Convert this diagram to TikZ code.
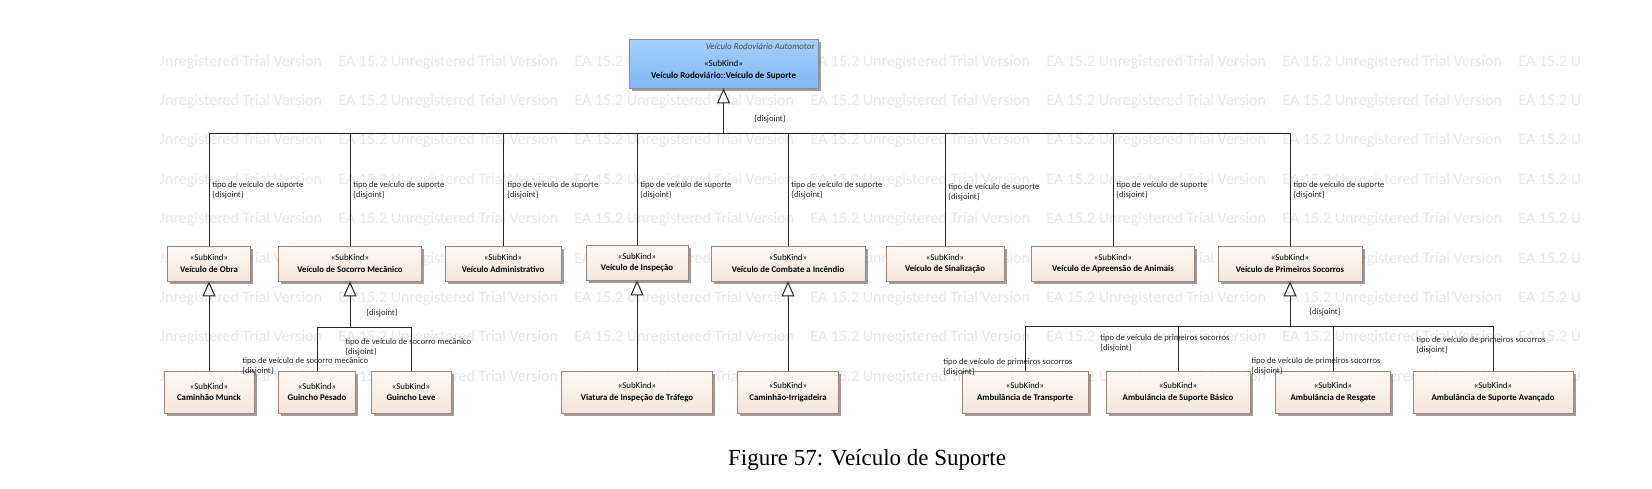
\documentclass[tikz,border=0pt]{standalone}
\usepackage{fontspec}
\setmainfont{Liberation Serif}
\newfontfamily\eafont{Carlito}
\usetikzlibrary{arrows.meta,shadows}

\definecolor{kindtop}{RGB}{253,249,245}
\definecolor{kindfill}{RGB}{244,229,219}
\definecolor{kindline}{RGB}{160,135,125}
\definecolor{suptop}{RGB}{165,208,250}
\definecolor{supfill}{RGB}{128,184,245}
\definecolor{trialgray}{RGB}{233,233,233}

\tikzset{
  kind/.style={draw=kindline, line width=0.45pt, top color=kindtop, bottom color=kindfill,
    minimum width=#1*0.5pt, minimum height=17.5pt, inner sep=0pt, align=center,
    font=\eafont\fontsize{4.4}{5.75}\selectfont,
    drop shadow={shadow xshift=1.4pt, shadow yshift=-1.4pt, fill=black!70, opacity=0.55}},
  kindtall/.style={kind=#1, minimum height=21pt},
  lbl/.style={font=\eafont\fontsize{4.3}{5}\selectfont, align=left, anchor=west, inner sep=0pt, text=black!85},
  conn/.style={line width=0.5pt, draw=black!85},
  gen/.style={conn, -{Triangle[open, length=7.5pt, width=6.5pt]}},
  trial/.style={font=\eafont\fontsize{8}{9}\selectfont, text=trialgray, anchor=west, inner sep=0pt}
}

\begin{document}
\begin{tikzpicture}[x=0.5pt,y=-0.5pt]
    \useasboundingbox (0,0) rectangle (1652,488);

    % --------------------------------------------------------- %
    % ------------- watermark of the tool
    % --------------------------------------------------------- %
    \begin{scope}
      \clip (160,40) rectangle (1580,395);
      \foreach \i in {0,...,8}
        \foreach \wx in {102,338,...,1518}
          \node[trial] (wm\wx-\i) at (\wx,62+39.4*\i) {EA 15.2 Unregistered Trial Version};
    \end{scope}

    % --------------------------------------------------------- %
    % ------------- principal node (Veiculo de Suporte)
    % --------------------------------------------------------- %
    \node[kind=189, minimum height=24.5pt, top color=suptop, bottom color=supfill, draw=black!45] (suporte) at (723.5,63.5) {};
    \node[font=\eafont\fontsize{4.5}{6}\selectfont, align=center, inner sep=0pt] (suportetxt) at (723.5,70) {«SubKind»\\\textbf{Veículo Rodoviário::Veículo de Suporte}};
    \node[font=\eafont\itshape\fontsize{4.5}{6}\selectfont, anchor=east, inner sep=0pt, text=black!70] (automotor) at (815,46) {Veículo Rodoviário Automotor};

    % --------------------------------------------------------- %
    % ------------ tipos de veiculo de suporte
    % --------------------------------------------------------- %
    \node[kind=83] (obra) at (209,263.5) {«SubKind»\\\textbf{Veículo de Obra}};
    \node[kind=143] (socorro) at (350,263.5) {«SubKind»\\\textbf{Veículo de Socorro Mecânico}};
    \node[kind=116] (admin) at (503,263.5) {«SubKind»\\\textbf{Veículo Administrativo}};
    \node[kind=102] (inspecao) at (637,262.5) {«SubKind»\\\textbf{Veículo de Inspeção}};
    \node[kind=154] (combate) at (788,263.5) {«SubKind»\\\textbf{Veículo de Combate a Incêndio}};
    \node[kind=118] (sinal) at (945,263.5) {«SubKind»\\\textbf{Veículo de Sinalização}};
    \node[kind=163] (apreensao) at (1113,263.5) {«SubKind»\\\textbf{Veículo de Apreensão de Animais}};
    \node[kind=144] (primeiros) at (1290,263.5) {«SubKind»\\\textbf{Veículo de Primeiros Socorros}};

    \coordinate (jsup) at (723.5,133);
    \foreach \k in {obra,socorro,admin,inspecao,combate,sinal,apreensao,primeiros}
      \draw[conn] (\k.north) |- (jsup);
    \draw[gen] (jsup) -- (suporte.south);
    \node[lbl] (dsup) at (754,119) {\{disjoint\}};

    \node[lbl] (lobra) at (212,190) {tipo de veículo de suporte\\\{disjoint\}};
    \node[lbl] (lsocorro) at (353,190) {tipo de veículo de suporte\\\{disjoint\}};
    \node[lbl] (ladmin) at (507,190) {tipo de veículo de suporte\\\{disjoint\}};
    \node[lbl] (linspecao) at (640,190) {tipo de veículo de suporte\\\{disjoint\}};
    \node[lbl] (lcombate) at (791,190) {tipo de veículo de suporte\\\{disjoint\}};
    \node[lbl] (lsinal) at (948,192) {tipo de veículo de suporte\\\{disjoint\}};
    \node[lbl] (lapreensao) at (1116,190) {tipo de veículo de suporte\\\{disjoint\}};
    \node[lbl] (lprimeiros) at (1293,190) {tipo de veículo de suporte\\\{disjoint\}};

    % --------------------------------------------------------- %
    % ------------ obra, socorro, inspecao, combate
    % --------------------------------------------------------- %
    \node[kindtall=90] (munck) at (209,392) {«SubKind»\\\textbf{Caminhão Munck}};
    \draw[gen] (munck) to (obra);

    \node[kindtall=77] (pesado) at (317,392) {«SubKind»\\\textbf{Guincho Pesado}};
    \node[kindtall=80] (leve) at (411,392) {«SubKind»\\\textbf{Guincho Leve}};
    \coordinate (jsoc) at (350,327);
    \draw[conn] (pesado.north) |- (jsoc);
    \draw[conn] (leve.north) |- (jsoc);
    \draw[gen] (jsoc) -- (socorro.south);
    \node[lbl] (dsoc) at (366,313) {\{disjoint\}};
    \node[lbl] (lleve) at (345,347.5) {tipo de veículo de socorro mecânico\\\{disjoint\}};
    \node[lbl] (lpesado) at (242,366.5) {tipo de veículo de socorro mecânico\\\{disjoint\}};

    \node[kindtall=151] (viatura) at (637,392) {«SubKind»\\\textbf{Viatura de Inspeção de Tráfego}};
    \draw[gen] (viatura) to (inspecao);

    \node[kindtall=101] (irrigadeira) at (788,392) {«SubKind»\\\textbf{Caminhão-Irrigadeira}};
    \draw[gen] (irrigadeira) to (combate);

    % --------------------------------------------------------- %
    % ------------ ambulancias (primeiros socorros)
    % --------------------------------------------------------- %
    \node[kindtall=126] (transporte) at (1025,392) {«SubKind»\\\textbf{Ambulância de Transporte}};
    \node[kindtall=144] (basico) at (1178,392) {«SubKind»\\\textbf{Ambulância de Suporte Básico}};
    \node[kindtall=115] (resgate) at (1333,392) {«SubKind»\\\textbf{Ambulância de Resgate}};
    \node[kindtall=160] (avancado) at (1493,392) {«SubKind»\\\textbf{Ambulância de Suporte Avançado}};

    \coordinate (jpri) at (1290,326);
    \foreach \k in {transporte,basico,resgate,avancado}
      \draw[conn] (\k.north) |- (jpri);
    \draw[gen] (jpri) -- (primeiros.south);
    \node[lbl] (dpri) at (1309,312) {\{disjoint\}};

    \node[lbl] (ltransporte) at (943,367) {tipo de veículo de primeiros socorros\\\{disjoint\}};
    \node[lbl] (lbasico) at (1100,343.5) {tipo de veículo de primeiros socorros\\\{disjoint\}};
    \node[lbl] (lresgate) at (1251,366.5) {tipo de veículo de primeiros socorros\\\{disjoint\}};
    \node[lbl] (lavancado) at (1416,345) {tipo de veículo de primeiros socorros\\\{disjoint\}};

    % --------------------------------------------------------- %
    % ------------ caption
    % --------------------------------------------------------- %
    \node[font=\fontsize{11.5}{13}\selectfont, anchor=base, inner sep=0pt] (legenda) at (867,465) {Figure 57: Veículo de Suporte};

\end{tikzpicture}
\end{document}
